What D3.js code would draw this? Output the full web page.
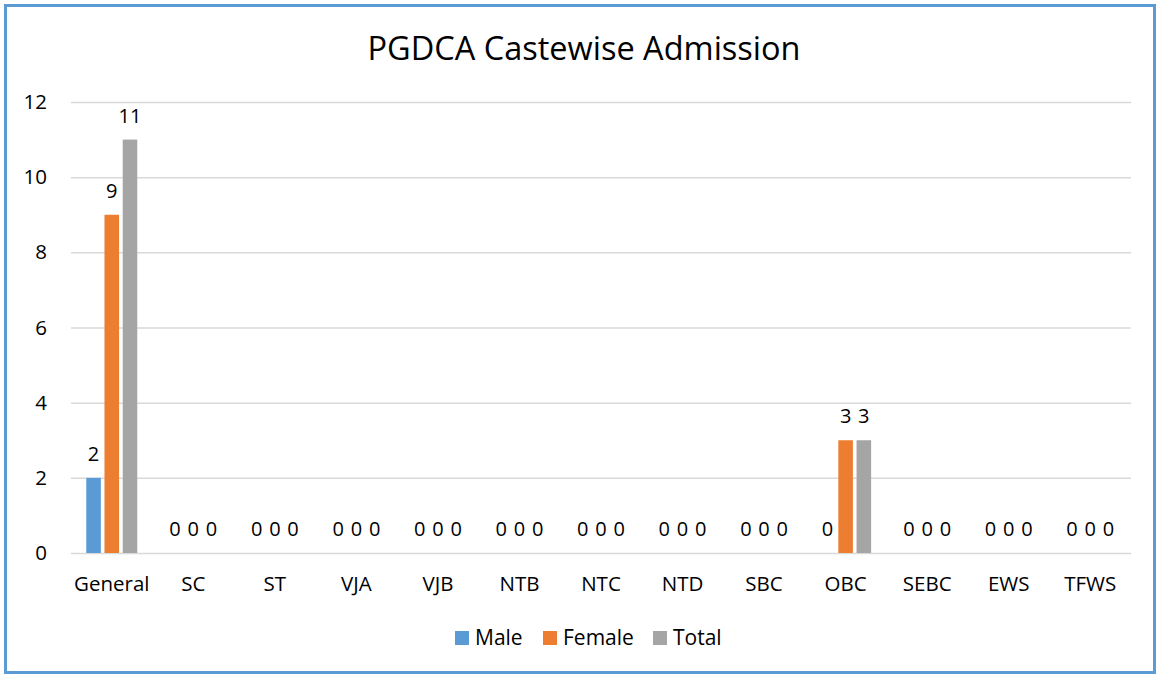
<!DOCTYPE html>
<html><head><meta charset="utf-8">
<script src="https://cdn.jsdelivr.net/npm/d3@7"></script>
<style>body{margin:0;background:#fff;}svg text{font-family:"Open Sans",sans-serif;fill:#000;}</style>
</head><body><svg id="c" width="1159" height="676"></svg>
<script>
const categories = ["General","SC","ST","VJA","VJB","NTB","NTC","NTD","SBC","OBC","SEBC","EWS","TFWS"];
const male   = [2,0,0,0,0,0,0,0,0,0,0,0,0];
const female = [9,0,0,0,0,0,0,0,0,3,0,0,0];
const total  = [11,0,0,0,0,0,0,0,0,3,0,0,0];
const seriesNames = ["Male","Female","Total"];
const colors = ["#5B9BD5","#ED7D31","#A5A5A5"];
const yTicks = [0,2,4,6,8,10,12];
const title = "PGDCA Castewise Admission";

const svg = d3.select("#c");
svg.append("rect").attr("x",5.5).attr("y",5.5).attr("width",1149).attr("height",667)
  .attr("fill","#fff").attr("stroke","#5B9BD5").attr("stroke-width",3);

const L=71,R=1131,T=102,B=553;
const x = d3.scaleBand().domain(categories).range([L,R]);
const y = d3.scaleLinear().domain([0,12]).range([B,T]);
const GW = 51;
const xs = d3.scaleBand().domain(seriesNames).range([0,GW]).paddingInner(0.2);

svg.append("text").attr("x",584).attr("y",60).attr("text-anchor","middle")
  .style("font-size","32.5px").text(title);

const gy = svg.append("g").attr("transform",`translate(${L},0)`)
  .call(d3.axisLeft(y).tickValues(yTicks).tickSize(-(R-L)).tickFormat(d3.format("d")));
gy.select(".domain").remove();
gy.selectAll(".tick line").attr("stroke","#d9d9d9").attr("stroke-width",1.5);
gy.selectAll(".tick text").attr("x",-24).style("font-size","20.5px").attr("fill","#000");

const gx = svg.append("g").attr("transform",`translate(0,${B})`)
  .call(d3.axisBottom(x).tickSize(0));
gx.select(".domain").remove();
gx.selectAll(".tick text").attr("dy",0).attr("y",38).style("font-size","20.5px").attr("fill","#000");

const data = [male,female,total];
const off = (x.bandwidth()-GW)/2;
data.forEach((vals,si)=>{
  const g = svg.append("g");
  categories.forEach((c,i)=>{
    const bx = x(c)+off+xs(seriesNames[si]);
    const v = vals[i];
    if(v>0) g.append("rect").attr("x",bx).attr("y",y(v)).attr("width",xs.bandwidth()).attr("height",y(0)-y(v)).attr("fill",colors[si]);
    g.append("text").attr("x",bx+xs.bandwidth()/2).attr("y",y(v)-17).attr("text-anchor","middle")
      .style("font-size","20px").text(v);
  });
});

const leg = svg.append("g");
const lx = [455,543,653];
seriesNames.forEach((n,i)=>{
  leg.append("rect").attr("x",lx[i]).attr("y",631).attr("width",14).attr("height",14).attr("fill",colors[i]);
  leg.append("text").attr("x",lx[i]+20).attr("y",645).style("font-size","21px").text(n);
});
</script></body></html>
